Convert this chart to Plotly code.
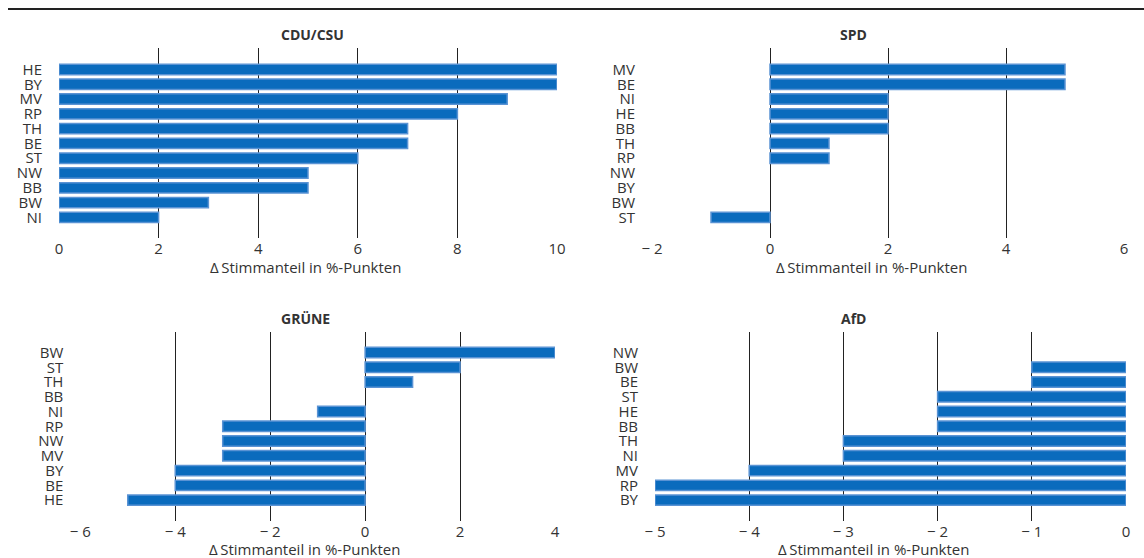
import plotly.graph_objects as go

W, H = 1144, 558

# ---------------- data (top-to-bottom order as drawn) ----------------
cdu_states = ["HE", "BY", "MV", "RP", "TH", "BE", "ST", "NW", "BB", "BW", "NI"]
cdu_values = [10, 10, 9, 8, 7, 7, 6, 5, 5, 3, 2]

spd_states = ["MV", "BE", "NI", "HE", "BB", "TH", "RP", "NW", "BY", "BW", "ST"]
spd_values = [5, 5, 2, 2, 2, 1, 1, 0, 0, 0, -1]

gruene_states = ["BW", "ST", "TH", "BB", "NI", "RP", "NW", "MV", "BY", "BE", "HE"]
gruene_values = [4, 2, 1, 0, -1, -3, -3, -3, -4, -4, -5]

afd_states = ["NW", "BW", "BE", "ST", "HE", "BB", "TH", "NI", "MV", "RP", "BY"]
afd_values = [0, -1, -1, -2, -2, -2, -3, -3, -4, -5, -5]

panel_titles = ["CDU/CSU", "SPD", "GRÜNE", "AfD"]
axis_title = "\u0394\u2009Stimmanteil in %-Punkten"

cdu_ticks = [0, 2, 4, 6, 8, 10]
spd_ticks = [-2, 0, 2, 4, 6]
gruene_ticks = [-6, -4, -2, 0, 2, 4]
afd_ticks = [-5, -4, -3, -2, -1, 0]


def fmt(v):
    return ("\u2212 " + str(abs(v))) if v < 0 else str(v)


# ---------------- styling ----------------
FONT = "Open Sans"
TXT = "#333333"
BAR = "#0a6bbd"
BAR_EDGE = "#5a93d4"
GRID = "#222222"


def px_x(p):
    return p / W


def px_y(p):
    return 1 - p / H


panels = [
    # states, values, ticks, xrange, xdomain(px), ydomain(px), yrange
    (cdu_states, cdu_values, cdu_ticks, [0, 10], (59, 557), (48, 238), [-1.39, 11.45]),
    (spd_states, spd_values, spd_ticks, [-2, 6], (652, 1124), (48, 238), [-1.39, 11.45]),
    (gruene_states, gruene_values, gruene_ticks, [-6, 4], (80.3, 555), (332, 521), [-1.42, 11.39]),
    (afd_states, afd_values, afd_ticks, [-5, 0], (655, 1126), (332, 521), [-1.42, 11.39]),
]

fig = go.Figure()
layout = {}
for i, (states, vals, ticks, xr, xd, yd, yr) in enumerate(panels, start=1):
    xa = "x" if i == 1 else f"x{i}"
    ya = "y" if i == 1 else f"y{i}"
    fig.add_trace(go.Bar(
        x=vals, y=states, orientation="h", xaxis=xa, yaxis=ya,
        width=0.7,
        marker=dict(color=BAR, line=dict(color=BAR_EDGE,
                                         width=[0 if v == 0 else 1.5 for v in vals])),
        showlegend=False, hoverinfo="skip",
    ))
    xkey = "xaxis" if i == 1 else f"xaxis{i}"
    ykey = "yaxis" if i == 1 else f"yaxis{i}"
    layout[xkey] = dict(
        domain=[px_x(xd[0]), px_x(xd[1])], range=xr, anchor=ya,
        tickmode="array", tickvals=ticks, ticktext=[fmt(t) for t in ticks],
        showgrid=True, gridcolor=GRID, gridwidth=1, zeroline=False,
        showline=False, ticks="", 
        tickfont=dict(family=FONT, size=15, color=TXT), fixedrange=True,
        automargin=False,
    )
    layout[ykey] = dict(
        domain=[px_y(yd[1]), px_y(yd[0])], anchor=xa,
        type="category", categoryorder="array", categoryarray=list(reversed(states)),
        tickmode="array", tickvals=states, ticktext=states,
        range=yr, showgrid=False, zeroline=False, showline=False,
        ticks="outside", ticklen=13, tickcolor="rgba(0,0,0,0)",
        tickfont=dict(family=FONT, size=15, color=TXT), fixedrange=True,
        automargin=False,
    )

fig.update_layout(**layout)

annotations = []
title_pos = [(312, 35), (853, 35), (305, 318), (853, 318)]
for t, (x, y) in zip(panel_titles, title_pos):
    annotations.append(dict(
        text="<b>" + t + "</b>", x=px_x(x), y=px_y(y), xref="paper", yref="paper",
        xanchor="center", yanchor="middle", showarrow=False,
        font=dict(family=FONT, size=14, color=TXT),
    ))
atitle_pos = [(305, 267), (872, 267), (304, 549), (873, 549)]
for x, y in atitle_pos:
    annotations.append(dict(
        text=axis_title, x=px_x(x), y=px_y(y), xref="paper", yref="paper",
        xanchor="center", yanchor="middle", showarrow=False,
        font=dict(family=FONT, size=15, color=TXT),
    ))

fig.update_layout(
    width=W, height=H, autosize=False,
    margin=dict(l=0, r=0, t=0, b=0, pad=0, autoexpand=False),
    paper_bgcolor="white", plot_bgcolor="white",
    bargap=0.3,
    annotations=annotations,
    shapes=[dict(type="line", xref="paper", yref="paper",
                 x0=px_x(8), x1=1, y0=px_y(9), y1=px_y(9),
                 line=dict(color="#222222", width=2))],
)

fig.write_html(
    "out.html",
    config={"displayModeBar": False},
    post_script="document.body.style.margin='0';document.body.style.overflow='hidden';",
)
